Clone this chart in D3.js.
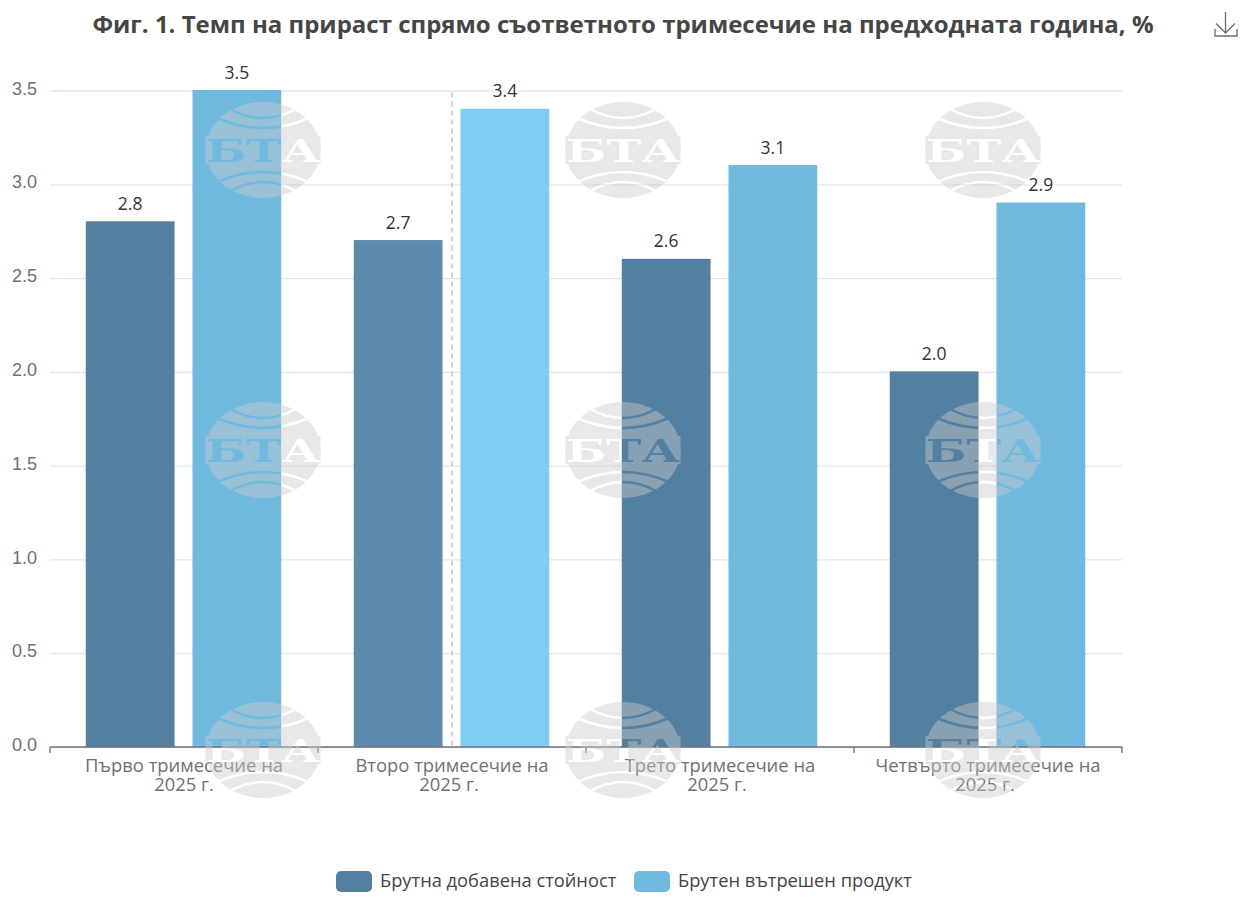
<!DOCTYPE html>
<html>
<head>
	<meta charset="utf-8" />
	<title>Темп на прираст</title>
	<script src="https://cdn.jsdelivr.net/npm/d3@7"></script>
	<style>
		html, body { margin: 0; padding: 0; background: #fff; }
		svg { display: block; font-family: "Open Sans", "Noto Sans", sans-serif; }
	</style>
</head>
<body>
<svg id="chart" width="1246" height="900"></svg>

<script type="text/javascript">
var title = "Фиг. 1. Темп на прираст спрямо съответното тримесечие на предходната година, %";
var quarters = [
	["Първо тримесечие на", "2025 г."],
	["Второ тримесечие на", "2025 г."],
	["Трето тримесечие на", "2025 г."],
	["Четвърто тримесечие на", "2025 г."]
];
var seriesNames = ["Брутна добавена стойност", "Брутен вътрешен продукт"];
var gva = [2.8, 2.7, 2.6, 2.0];
var gdp = [3.5, 3.4, 3.1, 2.9];
var yTicks = [0, 0.5, 1, 1.5, 2, 2.5, 3, 3.5];

var colors = ["#537fa0", "#70b9df"],
    hoverColors = ["#5d8bad", "#7dcdf5"],
    hoverIndex = 1,
    pointerX = 452;

var margin = {top: 90.5, right: 124, bottom: 153, left: 50},
    width  = 1246 - margin.left - margin.right,
    height = 900 - margin.top - margin.bottom;

var svg = d3.select("#chart");

var x0 = d3.scaleBand().domain(d3.range(quarters.length)).range([0, width]);
var x1 = d3.scaleBand().domain([0, 1]).range([0, x0.bandwidth()])
	.paddingInner(0.168).paddingOuter(0.34);
var y = d3.scaleLinear().domain([0, 3.5]).range([height, 0]);

svg.append("text")
	.attr("x", 623).attr("y", 33)
	.attr("text-anchor", "middle")
	.attr("font-size", 24).attr("font-weight", 700)
	.attr("fill", "#464646")
	.text(title);

var chart = svg.append("g")
	.attr("transform", "translate(" + margin.left + "," + margin.top + ")");

/* y axis + grid */
var yAxis = chart.append("g")
	.call(d3.axisLeft(y).tickValues(yTicks).tickSize(-width).tickPadding(13).tickFormat(d3.format(".1f")));
yAxis.select(".domain").remove();
yAxis.selectAll("line").attr("stroke", "#e0e6f1").attr("stroke-width", 1.3);
yAxis.selectAll("text")
	.attr("font-size", 18).attr("font-family", "inherit")
	.attr("fill", "#6e7079").attr("dy", "0.2em");

/* bars */
var groups = chart.selectAll(".quarter").data(quarters).enter().append("g")
	.attr("class", "quarter")
	.attr("transform", function(d, i) { return "translate(" + x0(i) + ",0)"; });

[gva, gdp].forEach(function(values, s) {
	groups.append("rect")
		.attr("x", x1(s) - 0.5)
		.attr("y", function(d, i) { return y(values[i]) - 0.5; })
		.attr("width", x1.bandwidth())
		.attr("height", function(d, i) { return height - y(values[i]) + 0.5; })
		.attr("fill", function(d, i) { return i == hoverIndex ? hoverColors[s] : colors[s]; });

	groups.append("text")
		.attr("x", x1(s) + x1.bandwidth() / 2 - 0.5)
		.attr("y", function(d, i) { return y(values[i]) - 12; })
		.attr("text-anchor", "middle")
		.attr("font-size", 17.5)
		.attr("fill", "#333")
		.attr("stroke", "#fff").attr("stroke-width", 3).attr("paint-order", "stroke")
		.text(function(d, i) { return values[i].toFixed(1); });
});

/* x axis, ticks sit on the band edges */
var xLine = chart.append("g").attr("transform", "translate(0," + height + ")");
var xEdges = d3.range(quarters.length + 1).map(function(i) { return i * x0.step(); });
xLine.append("line").attr("x1", 0).attr("x2", width)
	.attr("stroke", "#6e7079").attr("stroke-width", 1.3);
xLine.selectAll(".tick").data(xEdges).enter().append("line")
	.attr("class", "tick")
	.attr("x1", function(d) { return d; }).attr("x2", function(d) { return d; })
	.attr("y1", 0).attr("y2", 6)
	.attr("stroke", "#6e7079").attr("stroke-width", 1.3);

var xLabels = xLine.selectAll(".xlabel").data(quarters).enter().append("text")
	.attr("class", "xlabel")
	.attr("text-anchor", "middle")
	.attr("font-size", 18.4)
	.attr("fill", "#6e7079");
xLabels.each(function(d, i) {
	d3.select(this).selectAll("tspan").data(d).enter().append("tspan")
		// the wrapped second line sits a bit left of centre except in the first group
		.attr("x", function(t, j) { return x0(i) + x0.bandwidth() / 2 - (j == 1 && i > 0 ? 3 : 0); })
		.attr("y", function(t, j) { return 25 + j * 19; })
		.text(function(t) { return t; });
});

/* hover pointer */
chart.append("line")
	.attr("x1", pointerX - margin.left).attr("x2", pointerX - margin.left)
	.attr("y1", y(3.5) + 2).attr("y2", height)
	.attr("stroke", "#b6b9c4").attr("stroke-width", 1.3)
	.attr("stroke-dasharray", "5,4");

/* legend */
var legend = svg.append("g");
var legendX = [336, 634];
seriesNames.forEach(function(name, s) {
	legend.append("rect")
		.attr("x", legendX[s]).attr("y", 871)
		.attr("width", 36).attr("height", 21).attr("rx", 5)
		.attr("fill", colors[s]);
	legend.append("text")
		.attr("x", legendX[s] + 44).attr("y", 887)
		.attr("font-size", 18.3)
		.attr("fill", "#444")
		.text(name);
});

/* download icon */
svg.append("path")
	.attr("d", "M1225.5 12V33M1216 23.5L1225.5 33L1235 23.5M1215 29V36H1237V29")
	.attr("fill", "none").attr("stroke", "#6b6b6b").attr("stroke-width", 1.3);

/* BTA watermark: grey disc with the arcs and letters knocked out */
var defs = svg.append("defs");
var mask = defs.append("mask").attr("id", "bta")
	.attr("maskUnits", "userSpaceOnUse")
	.attr("x", -60).attr("y", -50).attr("width", 120).attr("height", 100);
mask.append("ellipse").attr("rx", 57.5).attr("ry", 48).attr("fill", "#fff");
mask.append("rect").attr("x", -57.5).attr("y", -14).attr("width", 115).attr("height", 28).attr("fill", "#fff");
["M-33 -41Q0 -23 33 -41", "M-46 -32Q0 -12 46 -32", "M-46 32Q0 12 46 32", "M-33 41Q0 23 33 41"].forEach(function(d) {
	mask.append("path").attr("d", d).attr("fill", "none").attr("stroke", "#000").attr("stroke-width", 2.5);
});
mask.append("text")
	.attr("y", 12).attr("text-anchor", "middle")
	.attr("font-family", "'DejaVu Serif', 'Liberation Serif', serif")
	.attr("font-weight", 700).attr("font-size", 31)
	.attr("textLength", 114).attr("lengthAdjust", "spacingAndGlyphs")
	.attr("fill", "#000").text("БТА");

var markX = [263, 623, 983], markY = [150, 450, 750];
markY.forEach(function(my) {
	markX.forEach(function(mx) {
		var g = svg.append("g").attr("transform", "translate(" + mx + "," + my + ")");
		g.append("rect")
			.attr("x", -60).attr("y", -50).attr("width", 120).attr("height", 100)
			.attr("mask", "url(#bta)")
			.attr("fill", "#cbcbcb").attr("opacity", 0.44);
	});
});
</script>
</body>
</html>
